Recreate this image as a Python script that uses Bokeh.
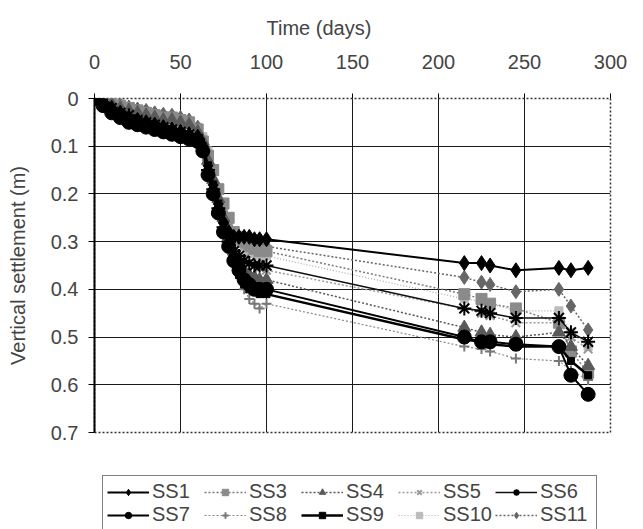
from bokeh.plotting import figure
from bokeh.layouts import column
from bokeh.models import Range1d, FixedTicker, Legend, LegendItem, CustomJSTickFormatter, Title
from bokeh.embed import file_html
from bokeh.resources import INLINE

# ---------------- data ----------------
t_early = [0, 5, 10, 15, 20, 25, 30, 35, 40, 45, 50, 55, 60,
           63, 66, 69, 72, 75, 78, 81, 84, 87, 90, 93, 96, 100]
t_late = [215, 225, 230, 245, 270, 277, 287]

x_ticks = [0, 50, 100, 150, 200, 250, 300]
y_ticks = [0, 0.1, 0.2, 0.3, 0.4, 0.5, 0.6, 0.7]

ss1 = [0, 0.01, 0.02, 0.03, 0.04, 0.045, 0.05, 0.055, 0.06, 0.065, 0.07, 0.075, 0.08,
       0.10, 0.15, 0.19, 0.23, 0.26, 0.28, 0.29, 0.29, 0.29, 0.29, 0.295, 0.295, 0.295,
       0.345, 0.345, 0.35, 0.36, 0.355, 0.36, 0.355]
ss3 = [0, 0.005, 0.01, 0.015, 0.02, 0.025, 0.03, 0.035, 0.04, 0.04, 0.045, 0.05, 0.065,
       0.09, 0.12, 0.15, 0.19, 0.22, 0.25, 0.28, 0.29, 0.30, 0.31, 0.315, 0.32, 0.32,
       0.41, 0.42, 0.43, 0.44, 0.47, 0.53, 0.575]
ss4 = [0, 0.005, 0.012, 0.02, 0.025, 0.03, 0.035, 0.04, 0.045, 0.045, 0.05, 0.055, 0.07,
       0.09, 0.13, 0.17, 0.21, 0.25, 0.29, 0.32, 0.34, 0.36, 0.37, 0.375, 0.38, 0.38,
       0.48, 0.49, 0.495, 0.50, 0.49, 0.52, 0.56]
ss5 = [0, 0.004, 0.01, 0.015, 0.02, 0.025, 0.03, 0.035, 0.04, 0.045, 0.05, 0.055, 0.065,
       0.09, 0.12, 0.16, 0.20, 0.24, 0.27, 0.30, 0.32, 0.335, 0.345, 0.35, 0.355, 0.36,
       0.44, 0.45, 0.455, 0.47, 0.47, 0.50, 0.525]
ss6 = [0, 0.01, 0.02, 0.03, 0.035, 0.045, 0.05, 0.055, 0.06, 0.065, 0.07, 0.075, 0.085,
       0.11, 0.15, 0.19, 0.23, 0.27, 0.30, 0.32, 0.33, 0.34, 0.345, 0.35, 0.35, 0.35,
       0.44, 0.445, 0.45, 0.46, 0.46, 0.49, 0.51]
ss7 = [0, 0.015, 0.03, 0.04, 0.05, 0.055, 0.06, 0.065, 0.07, 0.075, 0.08, 0.085, 0.09,
       0.11, 0.16, 0.20, 0.24, 0.28, 0.31, 0.34, 0.36, 0.38, 0.39, 0.40, 0.40, 0.40,
       0.50, 0.51, 0.51, 0.515, 0.52, 0.58, 0.62]
ss8 = [0, 0.005, 0.012, 0.02, 0.025, 0.03, 0.035, 0.04, 0.045, 0.05, 0.055, 0.06, 0.07,
       0.09, 0.12, 0.16, 0.21, 0.26, 0.30, 0.34, 0.37, 0.40, 0.42, 0.43, 0.44, 0.43,
       0.52, 0.525, 0.53, 0.545, 0.55, 0.57, 0.59]
ss9 = [0, 0.012, 0.025, 0.035, 0.045, 0.05, 0.055, 0.06, 0.065, 0.07, 0.075, 0.08, 0.085,
       0.10, 0.14, 0.18, 0.22, 0.27, 0.31, 0.34, 0.37, 0.39, 0.40, 0.405, 0.41, 0.41,
       0.505, 0.51, 0.515, 0.52, 0.52, 0.55, 0.58]
ss10 = [0, 0.004, 0.008, 0.012, 0.018, 0.022, 0.028, 0.032, 0.036, 0.04, 0.045, 0.05, 0.06,
        0.08, 0.11, 0.15, 0.19, 0.23, 0.26, 0.28, 0.30, 0.31, 0.32, 0.325, 0.33, 0.33,
        0.42, 0.425, 0.43, 0.445, 0.445, 0.49, 0.52]
ss11 = [0, 0.003, 0.008, 0.012, 0.018, 0.022, 0.025, 0.03, 0.033, 0.035, 0.04, 0.045, 0.06,
        0.09, 0.12, 0.17, 0.21, 0.24, 0.27, 0.285, 0.295, 0.30, 0.30, 0.305, 0.31, 0.31,
        0.375, 0.385, 0.39, 0.405, 0.40, 0.435, 0.485]

names = ["SS1", "SS3", "SS4", "SS5", "SS6", "SS7", "SS8", "SS9", "SS10", "SS11"]
values = [ss1, ss3, ss4, ss5, ss6, ss7, ss8, ss9, ss10, ss11]
times = t_early + t_late

# styles: marker, size, marker colour, line colour, line width, dash
styles = {
    "SS1":  ("diamond", 15, "#000000", "#000000", 2.0, "solid"),
    "SS3":  ("square", 11, "#8a8a8a", "#7a7a7a", 1.5, "2 2"),
    "SS4":  ("triangle", 13, "#5a5a5a", "#555555", 1.5, "2 2"),
    "SS5":  ("x", 12, "#9a9a9a", "#9a9a9a", 1.5, "2 2"),
    "SS6":  ("asterisk", 14, "#000000", "#111111", 1.5, "solid"),
    "SS7":  ("circle", 14, "#000000", "#000000", 2.0, "solid"),
    "SS8":  ("cross", 10, "#777777", "#888888", 1.2, "2 2"),
    "SS9":  ("square", 7, "#000000", "#000000", 2.5, "solid"),
    "SS10": ("square", 8, "#bbbbbb", "#aaaaaa", 1.2, "1 2"),
    "SS11": ("diamond", 14, "#666666", "#666666", 1.5, "2 2"),
}

FONT = "Liberation Sans"
FS = "20px"

p = figure(width=643, height=467, frame_width=516, frame_height=334,
           output_backend="svg", toolbar_location=None,
           x_axis_location="above",
           x_range=Range1d(0, 300), y_range=Range1d(0.7, 0),
           min_border_left=94, min_border_right=33, min_border_top=98, min_border_bottom=35)
p.title = Title(text="Time (days)", align="left", offset=172, standoff=26,
                text_font=FONT, text_font_size=FS, text_font_style="normal")

xa = p.xaxis[0]
xa.ticker = FixedTicker(ticks=x_ticks)
xa.major_label_text_font = FONT
xa.major_label_text_font_size = FS
xa.major_label_standoff = 25
xa.major_tick_out = 5
xa.major_tick_in = 0
xa.minor_tick_out = 0
xa.axis_line_color = None

ya = p.yaxis[0]
ya.ticker = FixedTicker(ticks=y_ticks)
ya.formatter = CustomJSTickFormatter(code="return tick == 0 ? '0' : tick.toFixed(1);")
ya.axis_label = "Vertical settlement (m)"
ya.axis_label_text_font = FONT
ya.axis_label_text_font_size = FS
ya.axis_label_text_font_style = "normal"
ya.axis_label_standoff = 19
ya.major_label_text_font = FONT
ya.major_label_text_font_size = FS
ya.major_label_standoff = 10
ya.major_tick_out = 6
ya.major_tick_in = 0
ya.minor_tick_out = 0
ya.axis_line_color = "#000000"
ya.axis_line_width = 2

p.xgrid.ticker = FixedTicker(ticks=[50, 100, 150, 200, 250])
p.ygrid.ticker = FixedTicker(ticks=[0.1, 0.2, 0.3, 0.4, 0.5, 0.6])
p.xgrid.grid_line_color = "#1a1a1a"
p.ygrid.grid_line_color = "#1a1a1a"
p.xgrid.grid_line_width = 1
p.ygrid.grid_line_width = 1.2
p.outline_line_color = "#333333"
p.outline_line_dash = "2 2"
p.outline_line_width = 1.5

draw_order = ["SS10", "SS11", "SS8", "SS5", "SS3", "SS4", "SS9", "SS6", "SS7", "SS1"]


def draw(fig, n, xs, ys):
    m, sz, mc, lc, lw, dash = styles[n]
    ln = fig.line(xs, ys, line_color=lc, line_width=lw, line_dash=dash)
    if m in ("x", "cross", "asterisk"):
        sc = fig.scatter(xs, ys, marker=m, size=sz, line_color=mc, line_width=2)
    else:
        sc = fig.scatter(xs, ys, marker=m, size=sz, fill_color=mc, line_color=mc)
    return [ln, sc]


for n in draw_order:
    draw(p, n, times, values[names.index(n)])

# legend strip below the chart: the same series, kept outside its visible ranges
p2 = figure(width=643, height=62, output_backend="svg", toolbar_location=None,
            x_range=Range1d(1000, 1001), y_range=Range1d(1000, 1001),
            x_axis_location=None, y_axis_location=None,
            min_border_left=0, min_border_right=0, min_border_top=0, min_border_bottom=0)
p2.outline_line_color = None
p2.xgrid.visible = False
p2.ygrid.visible = False

leg_renderers = {n: draw(p2, n, times, values[names.index(n)]) for n in names}

legend = Legend(items=[LegendItem(label=n, renderers=leg_renderers[n]) for n in names],
                orientation="horizontal", nrows=2,
                location="top_left",
                label_text_font=FONT, label_text_font_size=FS,
                glyph_width=42, glyph_height=16, label_standoff=3, label_width=52,
                label_height=16, spacing=0, padding=4, margin=8,
                border_line_color="#000000", border_line_width=1.5,
                background_fill_alpha=1.0)
p2.add_layout(legend)

layout = column(p, p2, spacing=0)
open("out.html", "w").write(file_html(layout, INLINE))
